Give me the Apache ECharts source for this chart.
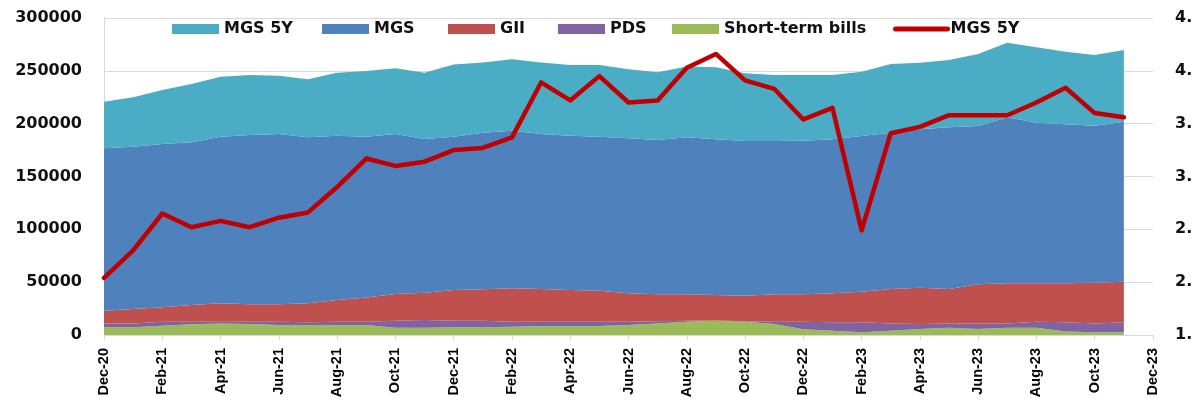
<!DOCTYPE html>
<html>
<head>
<meta charset="utf-8">
<title>MGS holdings vs MGS 5Y</title>
<script src="https://cdn.jsdelivr.net/npm/echarts@6.0.0/dist/echarts.min.js"></script>
<style>
  html, body { margin: 0; padding: 0; background: #fff; }
  #main { width: 1192px; height: 410px; }
</style>
</head>
<body>
<div id="main"></div>
<script>
// x axis runs Dec-20 .. Dec-23, data stops at Nov-23
const months = [
  'Dec-20', 'Jan-21', 'Feb-21', 'Mar-21', 'Apr-21', 'May-21', 'Jun-21', 'Jul-21', 'Aug-21', 'Sep-21', 'Oct-21', 'Nov-21',
  'Dec-21', 'Jan-22', 'Feb-22', 'Mar-22', 'Apr-22', 'May-22', 'Jun-22', 'Jul-22', 'Aug-22', 'Sep-22', 'Oct-22', 'Nov-22',
  'Dec-22', 'Jan-23', 'Feb-23', 'Mar-23', 'Apr-23', 'May-23', 'Jun-23', 'Jul-23', 'Aug-23', 'Sep-23', 'Oct-23', 'Nov-23',
  'Dec-23'
];

// stacked holdings, bottom to top
const shortTermBills = [7300, 7300, 8800, 10100, 11000, 10400, 9500, 9500, 9500, 9500, 6900, 6900,
  7300, 7300, 7900, 8500, 8500, 8500, 9500, 11000, 12600, 13400, 12600, 10400,
  5400, 4100, 2500, 4100, 5700, 6900, 5700, 6900, 6900, 3200, 2500, 2500];
const pds = [3700, 3700, 3800, 2500, 1600, 2200, 3100, 2500, 3100, 3100, 6700, 7300,
  6300, 6300, 4700, 4100, 4100, 4100, 3100, 1900, 1000, 400, 500, 2200,
  7200, 7900, 9500, 6900, 4700, 4100, 5300, 4100, 5700, 8800, 8500, 9500];
const gii = [12000, 13600, 13600, 15800, 17400, 16400, 16400, 18000, 20500, 23000, 25200, 25800,
  29000, 29600, 31600, 30900, 30000, 29300, 26800, 25600, 24900, 24100, 24100, 25900,
  25900, 27400, 29000, 32500, 34400, 32500, 37000, 37900, 36300, 36900, 38500, 38500];
const mgs = [153700, 153600, 154600, 154000, 157700, 160300, 161200, 157100, 155500, 152100, 151400, 145500,
  145100, 148300, 149200, 146700, 146000, 145800, 146800, 146000, 148600, 147300, 146400, 145100,
  145400, 145800, 147300, 148000, 149800, 153000, 149800, 157100, 152000, 150500, 148600, 151400];
const mgs5y = [44100, 46800, 51100, 55100, 56800, 56700, 55200, 54900, 59700, 62100, 62200, 62800,
  68300, 66500, 67600, 67800, 66900, 67800, 65200, 64100, 66900, 68100, 64000, 62400,
  62100, 60800, 60900, 65000, 63100, 63800, 68100, 70600, 71400, 68700, 66900, 67800];

// MGS 5Y yield, right axis (%)
const mgs5yYield = [2.04, 2.30, 2.65, 2.52, 2.58, 2.52, 2.61, 2.66, 2.90, 3.17, 3.10, 3.14,
  3.25, 3.27, 3.37, 3.89, 3.72, 3.95, 3.70, 3.72, 4.03, 4.16, 3.91, 3.83,
  3.54, 3.65, 2.49, 3.41, 3.47, 3.58, 3.58, 3.58, 3.70, 3.84, 3.60, 3.56];

// legend entries in drawing order: [series name, shown text, left px]
const legendItems = [
  ['MGS 5Y', 'MGS 5Y', 172],
  ['MGS', 'MGS', 322],
  ['GII', 'GII', 448],
  ['PDS', 'PDS', 558],
  ['Short-term bills', 'Short-term bills', 672],
  ['MGS 5Y yield', 'MGS 5Y', 893]
];

const font = 'DejaVu Sans';

function areaSeries(name, data, color) {
  return {
    name: name,
    type: 'line',
    stack: 'holdings',
    data: data,
    symbol: 'none',
    lineStyle: { width: 0 },
    areaStyle: { color: color, opacity: 1 },
    itemStyle: { color: color },
    emphasis: { disabled: true }
  };
}

// one legend per entry so each sits where the original put it
const legends = legendItems.map(([name, text, left]) => {
  const isLine = name === 'MGS 5Y yield';
  return {
    left: left,
    top: 21,
    padding: 0,
    itemWidth: isLine ? 52 : 47,
    itemHeight: 10,
    lineStyle: { width: 5, cap: 'round' },
    textStyle: { fontFamily: font, fontWeight: 'bold', fontSize: 16, color: '#111', padding: isLine ? [0, 0, 0, -2] : 0 },
    formatter: () => text,
    data: [isLine ? { name: name, itemStyle: { opacity: 0 } } : { name: name, icon: 'rect' }]
  };
});

const chart = echarts.init(document.getElementById('main'));

chart.setOption({
  animation: false,
  legend: legends,
  grid: { left: 104, right: 39, top: 18, bottom: 75, outerBoundsMode: 'none' },
  xAxis: {
    type: 'category',
    data: months,
    boundaryGap: false,
    axisLine: { lineStyle: { color: '#d9d9d9' } },
    axisTick: { interval: 1, length: 5, lineStyle: { color: '#d9d9d9' } },
    axisLabel: {
      interval: 1,
      rotate: 90,
      margin: 13,
      fontFamily: 'Liberation Sans',
      fontWeight: 'bold',
      fontSize: 14.5,
      color: '#000'
    }
  },
  yAxis: [
    {
      type: 'value',
      min: 0,
      max: 300000,
      interval: 50000,
      axisLine: { show: true, lineStyle: { color: '#d9d9d9' } },
      axisTick: { show: false },
      splitLine: { lineStyle: { color: '#d9d9d9' } },
      axisLabel: {
        margin: 22,
        fontFamily: font,
        fontWeight: 'bold',
        fontSize: 16,
        color: '#111',
        formatter: v => String(v)
      }
    },
    {
      type: 'value',
      min: 1.5,
      max: 4.5,
      interval: 0.5,
      axisLine: { show: false },
      axisTick: { show: false },
      splitLine: { show: false },
      axisLabel: {
        margin: 22,
        fontFamily: font,
        fontWeight: 'bold',
        fontSize: 16,
        color: '#111',
        formatter: v => v.toFixed(1)
      }
    }
  ],
  series: [
    areaSeries('Short-term bills', shortTermBills, '#9bbb59'),
    areaSeries('PDS', pds, '#8064a2'),
    areaSeries('GII', gii, '#c0504d'),
    areaSeries('MGS', mgs, '#4f81bd'),
    areaSeries('MGS 5Y', mgs5y, '#4bacc6'),
    {
      name: 'MGS 5Y yield',
      type: 'line',
      yAxisIndex: 1,
      data: mgs5yYield,
      symbol: 'none',
      z: 5,
      itemStyle: { color: '#c00000' },
      lineStyle: { color: '#c00000', width: 4.5, join: 'round', cap: 'round' },
      emphasis: { disabled: true }
    }
  ]
});
</script>
</body>
</html>
